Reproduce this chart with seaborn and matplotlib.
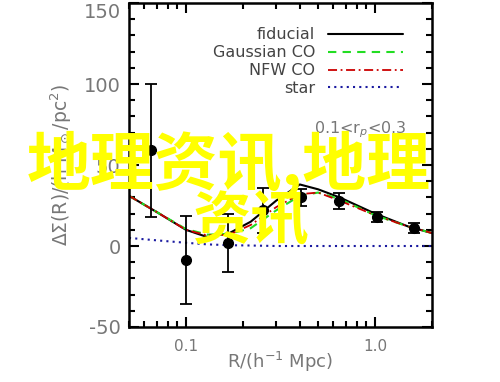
"""
ΔΣ(R) profile with fiducial / CO / star models
"""

import numpy as np
import pandas as pd
import matplotlib
matplotlib.use('Agg')
import matplotlib.pyplot as plt
import seaborn as sns
from matplotlib.ticker import MultipleLocator, FixedLocator, NullFormatter

sns.set_style('ticks')
plt.rcParams['font.family'] = ['DejaVu Sans', 'Noto Sans CJK SC']
plt.rcParams['mathtext.fontset'] = 'dejavusans'
plt.rcParams['axes.unicode_minus'] = False

# model curves
r_model = [0.05, 0.07, 0.1, 0.13, 0.17, 0.22, 0.3, 0.4, 0.5, 0.65, 1.0, 1.5, 2.0]
fiducial = [31, 21, 10, 5.5, 8, 15, 28, 38, 35, 30, 20, 12, 8]
gauss_co = [31, 21, 10.5, 7, 7.5, 11, 22, 31, 33, 29, 19, 12, 8]
nfw_co = [31, 21, 10, 6.5, 7, 13, 24, 32, 33, 28, 19, 12, 8]
star = [5, 3.5, 2, 1, 0.5, 0.3, 0, 0, 0, 0, 0, 0, 0]

# measurements
r_data = [0.065, 0.1, 0.167, 0.255, 0.406, 0.645, 1.03, 1.61]
ds_data = [59, -8.6, 2, 22, 30, 28, 18, 11]
ds_err = [41, 27, 18, 14, 5, 5, 3, 3]

grey = '#777777'

df = pd.DataFrame({'R': r_model, 'fiducial': fiducial, 'Gaussian CO': gauss_co,
                   'NFW CO': nfw_co, 'star': star})

fig = plt.figure(figsize=(5, 3.82), dpi=100)
ax = fig.add_axes([0.258, 0.144, 0.606, 0.848])

sns.lineplot(data=df, x='R', y='fiducial', ax=ax, color='black', lw=1.5, label='fiducial')
sns.lineplot(data=df, x='R', y='Gaussian CO', ax=ax, color='#22dd22', lw=1.5,
             label='Gaussian CO')
ax.lines[-1].set_linestyle((0, (4, 3)))
sns.lineplot(data=df, x='R', y='NFW CO', ax=ax, color='#cc0000', lw=1.3, label='NFW CO')
ax.lines[-1].set_linestyle((0, (5, 2, 1, 2)))
sns.lineplot(data=df, x='R', y='star', ax=ax, color='#1a1aa0', lw=1.5, label='star')
ax.lines[-1].set_linestyle((0, (1, 2)))

ax.errorbar(r_data, ds_data, yerr=ds_err, fmt='o', color='black', ms=7,
            elinewidth=1.3, capsize=4, capthick=1.3, zorder=5)

ax.set_xscale('log')
ax.set_xlim(0.05, 2.0)
ax.set_ylim(-50, 150)
ax.xaxis.set_major_locator(FixedLocator([0.1, 1.0]))
ax.set_xticklabels(['0.1', '1.0'])
ax.xaxis.set_minor_locator(FixedLocator([0.05, 0.06, 0.07, 0.08, 0.09, 0.2, 0.3, 0.4,
                                         0.5, 0.6, 0.7, 0.8, 0.9, 2.0]))
ax.xaxis.set_minor_formatter(NullFormatter())
ax.yaxis.set_major_locator(MultipleLocator(50))
ax.yaxis.set_minor_locator(MultipleLocator(10))
ax.tick_params(which='both', direction='in', top=True, right=True, color='black',
               width=1.5)
ax.tick_params(which='major', length=7)
ax.tick_params(which='minor', length=4)
ax.tick_params(axis='y', labelsize=14, labelcolor=grey, pad=6)
ax.tick_params(axis='x', labelsize=11, labelcolor=grey, pad=9)
for s in ax.spines.values():
    s.set_linewidth(1.8)
    s.set_color('black')

# keep the top label inside the figure
fig.canvas.draw()
for lab in ax.get_yticklabels():
    if lab.get_text() == '150':
        lab.set_va('top')

ax.set_xlabel(r'R/(h$^{-1}$ Mpc)', fontsize=13, color=grey, labelpad=-3)
ax.set_ylabel(r'$\Delta\Sigma$(R)/(h M$_\odot$/pc$^2$)', fontsize=13.5, color=grey, labelpad=7)

leg = ax.legend(loc='upper right', frameon=False, markerfirst=False, fontsize=11.5,
                handlelength=4.7, handletextpad=0.8, labelspacing=0.18, borderpad=0,
                borderaxespad=0, bbox_to_anchor=(0.904, 0.925))
for t in leg.get_texts():
    t.set_color('#444444')

ax.text(0.917, 0.608, r'0.1<r$_p$<0.3', transform=ax.transAxes, ha='right', va='center',
        fontsize=11.5, color=grey)

# watermark
fig.text(0.457, 0.568, '地理资讯,地理', fontsize=46, color='#ffff00', fontweight='bold',
         family=['Noto Sans CJK SC'], ha='center', va='center')
fig.text(0.5, 0.419, '资讯', fontsize=42, color='#ffff00', fontweight='bold',
         family=['Noto Sans CJK SC'], ha='center', va='center')

fig.savefig('out.png', dpi=100)
